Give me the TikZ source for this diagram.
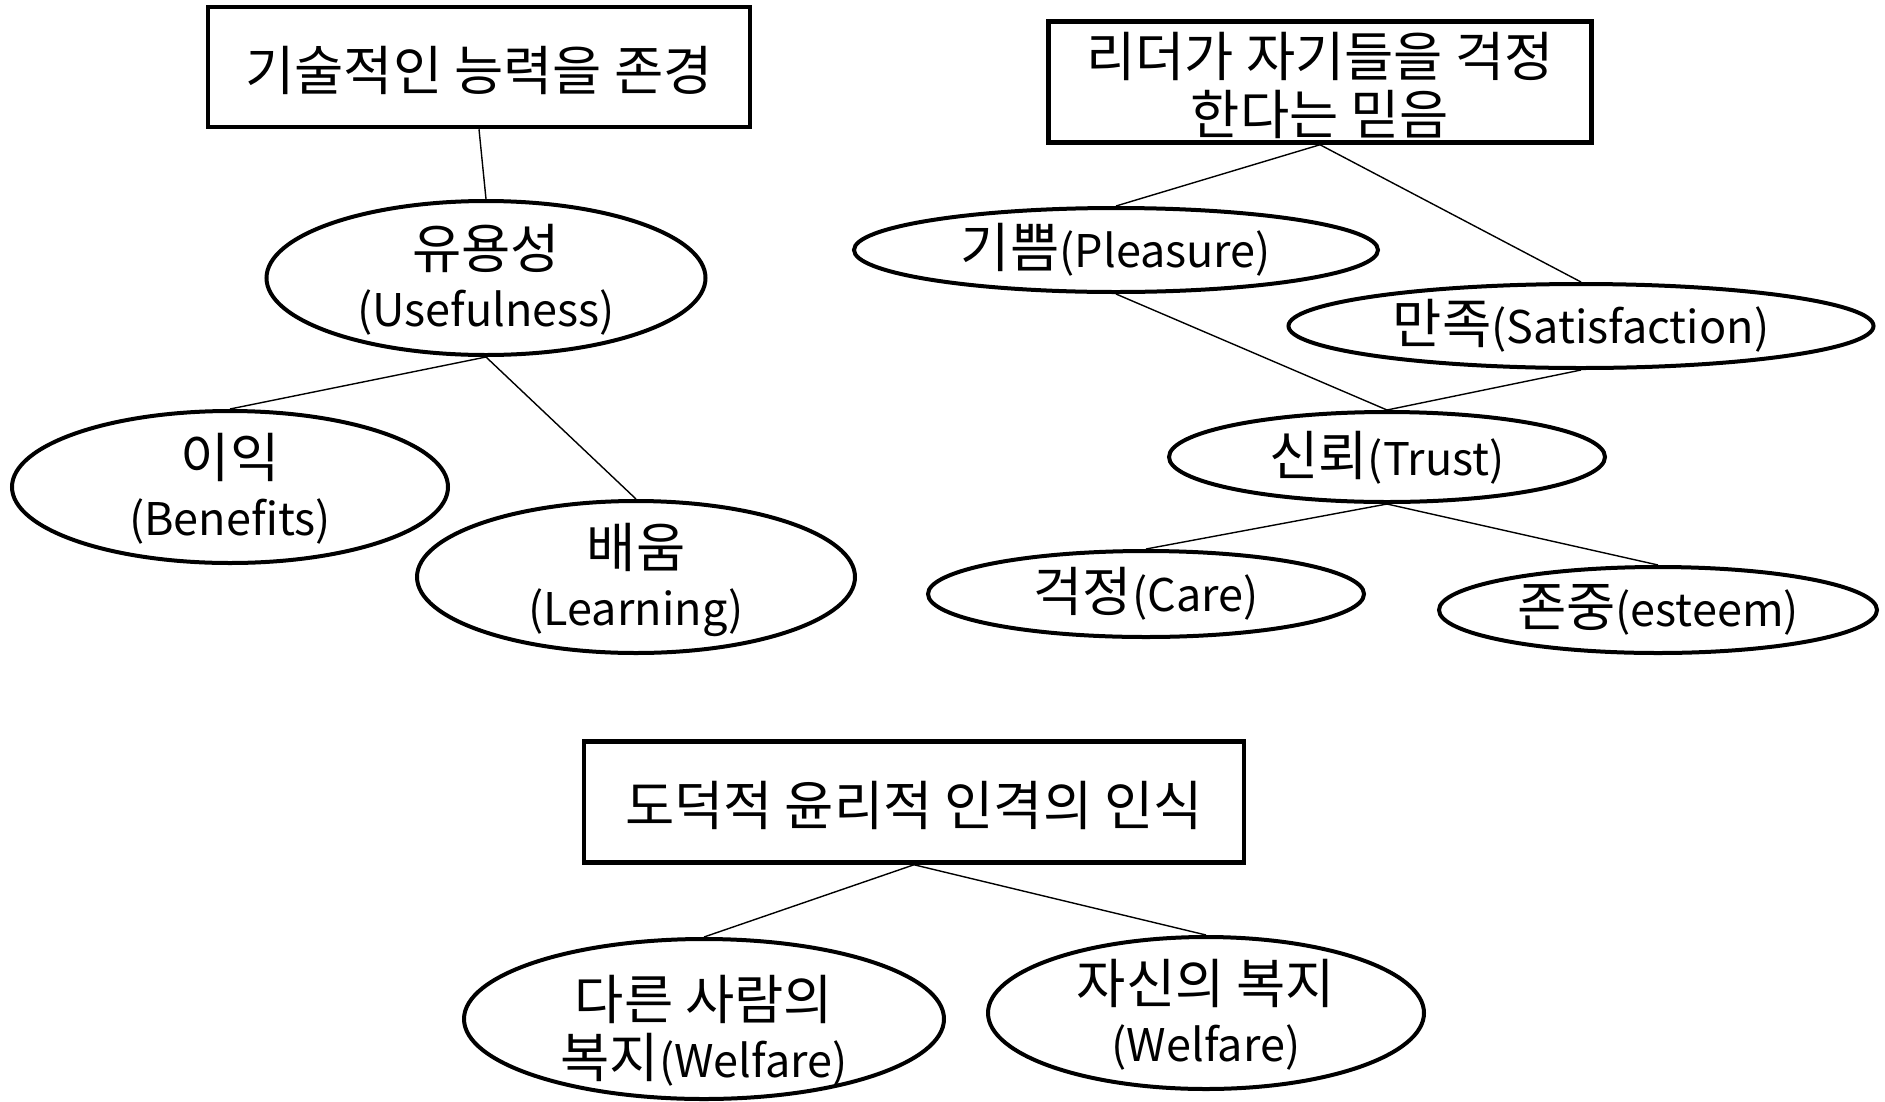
\documentclass[tikz,border=0pt]{standalone}
\usepackage{fontspec}
\setmainfont{Noto Sans CJK KR}
\newfontfamily\hg{Noto Sans CJK KR}[Scale=1.19]
\usetikzlibrary{shapes.geometric}
\begin{document}
\begin{tikzpicture}[x=1pt,y=-1pt,
  box/.style={draw, line width=4.5pt, rectangle, inner sep=0pt},
  ell/.style={draw, line width=4pt, ellipse, inner sep=0pt},
  lab/.style={align=center, font=\fontsize{45}{58}\selectfont, inner sep=0pt},
  conn/.style={line width=1.4pt}]
\useasboundingbox (0,0) rectangle (1885,1101);
% group 1
\node[box, minimum width=542pt, minimum height=120pt] (b1) at (479,67) {};
\node[lab] (t1) at (479,70) {\hg 기술적인 능력을 존경};
\node[ell, minimum width=439pt, minimum height=154pt] (u) at (486,278) {};
\node[lab] (tu) at (486,280) {{\hg 유용성}\\(Usefulness)};
\node[ell, minimum width=436pt, minimum height=152pt] (be) at (230,487) {};
\node[lab] (tbe) at (230,489) {{\hg 이익}\\(Benefits)};
\node[ell, minimum width=438pt, minimum height=152pt] (le) at (636,577) {};
\node[lab] (tle) at (636,580) {{\hg 배움}\\(Learning)};
\draw[conn] (b1.south) -- (u.north);
\draw[conn] (u.south) -- (be.north);
\draw[conn] (u.south) -- (le.north);
% group 2
\node[box, minimum width=543pt, minimum height=121pt] (b2) at (1320,82) {};
\node[lab] (t2) at (1320,85) {\hg 리더가 자기들을 걱정\\\hg 한다는 믿음};
\node[ell, minimum width=524pt, minimum height=84pt] (pl) at (1116,250) {};
\node[lab] (tpl) at (1116,250) {{\hg 기쁨}(Pleasure)};
\node[ell, minimum width=585pt, minimum height=84pt] (sa) at (1581,326) {};
\node[lab] (tsa) at (1581,326) {{\hg 만족}(Satisfaction)};
\node[ell, minimum width=436pt, minimum height=90pt] (tr) at (1387,457) {};
\node[lab] (ttr) at (1387,458) {{\hg 신뢰}(Trust)};
\node[ell, minimum width=436pt, minimum height=86pt] (ca) at (1146,594) {};
\node[lab] (tca) at (1146,594) {{\hg 걱정}(Care)};
\node[ell, minimum width=438pt, minimum height=86pt] (es) at (1658,610) {};
\node[lab] (tes) at (1658,610) {{\hg 존중}(esteem)};
\draw[conn] (b2.south) -- (pl.north);
\draw[conn] (b2.south) -- (sa.north);
\draw[conn] (pl.south) -- (tr.north);
\draw[conn] (sa.south) -- (tr.north);
\draw[conn] (tr.south) -- (ca.north);
\draw[conn] (tr.south) -- (es.north);
% group 3
\node[box, minimum width=660pt, minimum height=121pt] (b3) at (914,802) {};
\node[lab] (t3) at (914,805) {\hg 도덕적 윤리적 인격의 인식};
\node[ell, minimum width=480pt, minimum height=160pt] (ot) at (704,1019) {};
\node[lab] (tot) at (704,1031) {{\hg 다른 사람의}\\{\hg 복지}(Welfare)};
\node[ell, minimum width=436pt, minimum height=152pt] (se) at (1206,1013) {};
\node[lab] (tse) at (1206,1015) {{\hg 자신의 복지}\\(Welfare)};
\draw[conn] (b3.south) -- (ot.north);
\draw[conn] (b3.south) -- (se.north);
\end{tikzpicture}
\end{document}
